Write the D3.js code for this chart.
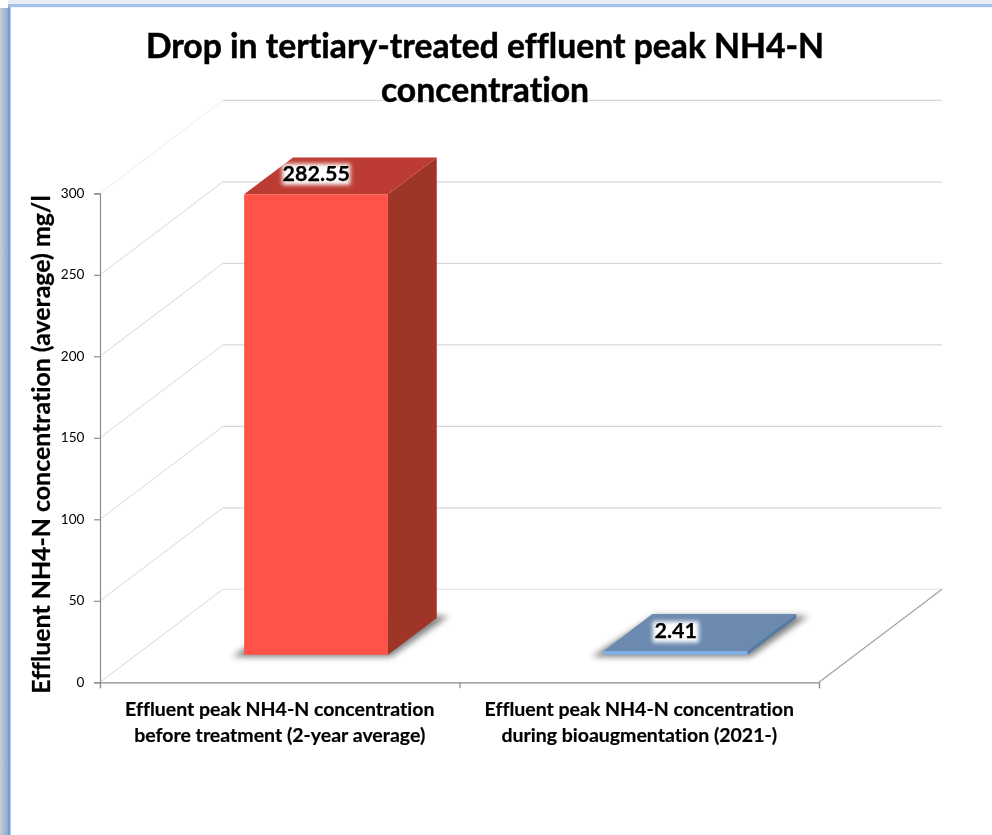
<!DOCTYPE html>
<html><head><meta charset="utf-8">
<script src="https://cdn.jsdelivr.net/npm/d3@7"></script>
<style>html,body{margin:0;padding:0;background:#fff;overflow:hidden}svg{display:block}text{font-family:Lato,"Noto Sans",sans-serif;fill:#000;font-variant-ligatures:none}</style>
</head><body><svg id="c" width="992" height="835"></svg>
<script>
const categories = [
  ["Effluent peak NH4-N concentration","before treatment (2-year average)"],
  ["Effluent peak NH4-N concentration","during bioaugmentation (2021-)"]
];
const values = [282.55, 2.41];
const valueLabels = ["282.55","2.41"];
const barFront = ["#ff5249","#7fb0e4"];
const barTop = ["#bc3b32","#6c89b0"];
const barSide = ["#9f3427","#557aa6"];
const yTicks = [0,50,100,150,200,250,300];
const titleLines = ["Drop in tertiary-treated effluent peak NH4-N","concentration"];
const yTitle = "Effluent NH4-N concentration (average) mg/l";

const svg = d3.select("#c");
const defs = svg.append("defs");
const blur = (id,s)=>defs.append("filter").attr("id",id).attr("x","-30%").attr("y","-80%").attr("width","160%").attr("height","260%")
  .append("feGaussianBlur").attr("stdDeviation",s);
blur("sh",3); blur("halo",2.2); blur("soft",0.45);
const lg = defs.append("linearGradient").attr("id","leftG");
lg.append("stop").attr("offset",0).attr("stop-color","#c3cedb");
lg.append("stop").attr("offset",1).attr("stop-color","#94a9c4");

// window frame
svg.append("rect").attr("width",992).attr("height",835).attr("fill","#fff");
svg.append("rect").attr("x",0).attr("y",8).attr("width",8).attr("height",827).attr("fill","url(#leftG)");
svg.append("rect").attr("x",8).attr("y",7).attr("width",2.5).attr("height",828).attr("fill","#6f9fd8");
svg.append("rect").attr("x",8).attr("y",0).attr("width",984).attr("height",4).attr("fill","#e6edf5");
svg.append("rect").attr("x",8).attr("y",4).attr("width",984).attr("height",3.2).attr("fill","#a3c1ea");

const x = d3.scaleBand().domain(d3.range(values.length)).range([100,819]).paddingInner(0.6).paddingOuter(0.3);
const outer = d3.scalePoint().domain(d3.range(values.length+1)).range([100,819]);
const y = d3.scaleLinear().domain([0,300]).range([682.3,193.3]);
// oblique depth: z in [0,1] runs from the front plane to the back wall
const DX = 123, DY = 93;
const P = (px,v,z)=>[px+z*DX, y(v)-z*DY];
const poly = pts=>pts.map(p=>p.join(",")).join(" ");

const g = svg.append("g").attr("filter","url(#soft)");

// walls
const grid = g.append("g");
yTicks.forEach(t=>{
  const a=P(100,t,0), b=P(100,t,1), c=P(819,t,1);
  grid.append("line").attr("x1",a[0]).attr("y1",a[1]).attr("x2",b[0]).attr("y2",b[1]).attr("stroke",t===300?"#eeeeee":"#d8d8d8").attr("stroke-width",1);
  grid.append("line").attr("x1",b[0]).attr("y1",b[1]).attr("x2",c[0]).attr("y2",c[1]).attr("stroke",t===0?"#e8e8e8":"#d8d8d8").attr("stroke-width",1.2);
});
// floor edge
const fa=P(819,0,0), fb=P(819,0,1);
g.append("line").attr("x1",fa[0]).attr("y1",fa[1]).attr("x2",fb[0]).attr("y2",fb[1]).attr("stroke","#a0a0a0").attr("stroke-width",1.2);

// bars
const z0=0.295, z1=0.692;
values.forEach((v,i)=>{
  const l=x(i), r=x(i)+x.bandwidth();
  const base=[P(l,0,z0),P(r,0,z0),P(r,0,z1),P(l,0,z1)];
  const shadow=[[base[0][0]-12,base[0][1]+2],[base[1][0]+3,base[1][1]+2],[base[2][0]+12,base[2][1]-2],[base[3][0]+2,base[3][1]-2]];
  g.append("polygon").attr("points",poly(shadow)).attr("fill","#555").attr("opacity",0.75).attr("filter","url(#sh)");
  g.append("polygon").attr("points",poly([P(r,0,z0),P(r,0,z1),P(r,v,z1),P(r,v,z0)])).attr("fill",barSide[i]);
  g.append("polygon").attr("points",poly([P(l,v,z0),P(r,v,z0),P(r,v,z1),P(l,v,z1)])).attr("fill",barTop[i]);
  g.append("polygon").attr("points",poly([P(l,0,z0),P(r,0,z0),P(r,v,z0),P(l,v,z0)])).attr("fill",barFront[i]);
});

// axes
const yAxis = d3.axisLeft(y).tickValues(yTicks).tickSize(6).tickPadding(8).tickFormat(d3.format("d"));
const ya = g.append("g").attr("transform","translate(100,0)").call(yAxis);
ya.selectAll("path,line").attr("stroke","#8c8c8c").attr("stroke-width",1.2);
ya.selectAll("text").attr("font-size",13.6).attr("dy","0.28em").attr("x",-15.5);
const xAxis = d3.axisBottom(outer).tickSize(6).tickFormat("");
const xa = g.append("g").attr("transform",`translate(0,${y(0)})`).call(xAxis);
xa.selectAll("path,line").attr("stroke","#8c8c8c").attr("stroke-width",1.2);

// data labels
valueLabels.forEach((t,i)=>{
  const m=P(x(i)+x.bandwidth()/2,values[i],0.5);
  const px=m[0]-25, py=m[1]+(i?6.5:5.5);
  const bw = t.length*11+2;
  g.append("rect").attr("x",px-bw/2).attr("y",py-17).attr("width",bw).attr("height",21).attr("fill","#fff").attr("filter","url(#halo)");
  g.append("text").attr("x",px).attr("y",py).attr("text-anchor","middle").attr("font-size",21.5).attr("font-weight",700).attr("stroke","#000").attr("stroke-width",0.25).text(t);
});

// category labels
categories.forEach((lines,i)=>{
  lines.forEach((t,j)=>g.append("text").attr("x",x(i)+x.bandwidth()/2).attr("y",716+j*26)
    .attr("text-anchor","middle").attr("font-size",19.5).attr("font-weight",700).attr("stroke","#000").attr("stroke-width",0.2).text(t));
});
// title
titleLines.forEach((t,j)=>g.append("text").attr("x",485).attr("y",58+j*44)
  .attr("text-anchor","middle").attr("font-size",33.7).attr("font-weight",700).attr("stroke","#000").attr("stroke-width",0.5).text(t));
// y title
g.append("text").attr("transform","translate(50,444.5) rotate(-90)").attr("text-anchor","middle")
  .attr("font-size",24.9).attr("font-weight",700).attr("stroke","#000").attr("stroke-width",0.25).text(yTitle);
</script></body></html>
